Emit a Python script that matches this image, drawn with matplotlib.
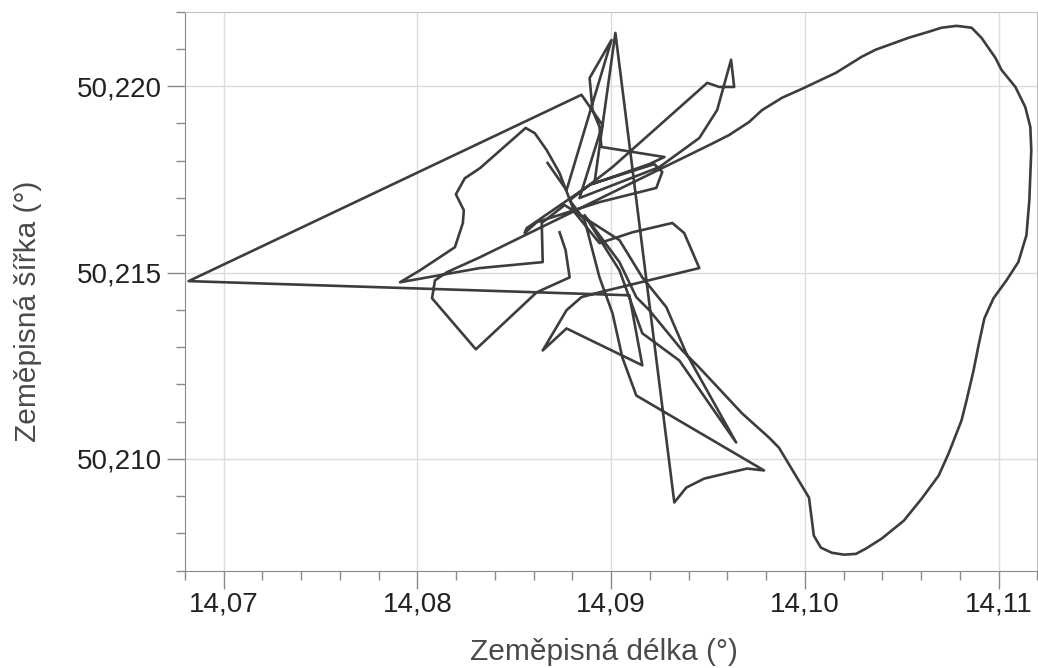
import matplotlib
matplotlib.use("Agg")
import matplotlib.pyplot as plt
from matplotlib.ticker import MultipleLocator, FuncFormatter

plt.rcParams["font.family"] = ["Liberation Sans", "DejaVu Sans"]

# GPS track (longitude, latitude in degrees)
lon = [
    14.08672, 14.08770, 14.09002, 14.08889, 14.08904, 14.08940, 14.08950, 14.09275,
    14.09197, 14.08889, 14.08564, 14.08554, 14.08616, 14.08940, 14.09233, 14.09264,
    14.09223, 14.08914, 14.09022,
    14.09326, 14.09388, 14.09480, 14.09609, 14.09702, 14.09789, 14.09130, 14.09058,
    14.09007, 14.08940, 14.08863, 14.08786,
    14.09007, 14.09496, 14.09558, 14.09635, 14.09619, 14.09547, 14.09455, 14.09249,
    14.08837,
    14.08955, 14.08847, 14.06820, 14.09094, 14.09161, 14.08770, 14.08647, 14.08770,
    14.08847, 14.08940, 14.09455, 14.09377, 14.09316, 14.09110, 14.08940, 14.08811,
    14.08734, 14.08667, 14.08606, 14.08559, 14.08323, 14.08245, 14.08199, 14.08240,
    14.08235, 14.08194, 14.08014, 14.07911, 14.08323, 14.08647, 14.08642, 14.08760,
    14.09043, 14.09161, 14.09285, 14.09388, 14.09645, 14.09352, 14.09161, 14.09043,
    14.08863,
    14.09043, 14.09130, 14.09197, 14.09367, 14.09455, 14.09676, 14.09815, 14.09866,
    14.10021, 14.10046, 14.10082, 14.10139, 14.10201, 14.10263, 14.10314, 14.10396,
    14.10510, 14.10602, 14.10690, 14.10741, 14.10808, 14.10834, 14.10870, 14.10896,
    14.10926, 14.10973, 14.11040, 14.11101, 14.11143, 14.11158, 14.11168, 14.11163,
    14.11137, 14.11086, 14.11014, 14.10983, 14.10911, 14.10860, 14.10782, 14.10705,
    14.10638, 14.10535, 14.10365, 14.10293, 14.10160, 14.09985, 14.09882, 14.09779,
    14.09712, 14.09609, 14.09506,
    14.08323, 14.08153, 14.08091, 14.08076, 14.08302, 14.08616, 14.08786, 14.08765,
    14.08734,
]
lat = [
    50.21794, 50.21721, 50.22124, 50.22022, 50.21936, 50.21891, 50.21837, 50.21810,
    50.21791, 50.21735, 50.21619, 50.21606, 50.21635, 50.21689, 50.21727, 50.21770,
    50.21791, 50.21740, 50.22143,
    50.20883, 50.20923, 50.20947, 50.20963, 50.20974, 50.20969, 50.21170, 50.21272,
    50.21391, 50.21487, 50.21641, 50.21694,
    50.21783, 50.22009, 50.21998, 50.21998, 50.22071, 50.21936, 50.21861, 50.21783,
    50.21700,
    50.21896, 50.21977, 50.21477, 50.21439, 50.21251, 50.21350, 50.21291, 50.21399,
    50.21434, 50.21447, 50.21512, 50.21606, 50.21633, 50.21608, 50.21579, 50.21662,
    50.21767, 50.21829, 50.21874, 50.21888, 50.21780, 50.21753, 50.21710, 50.21667,
    50.21633, 50.21568, 50.21506, 50.21474, 50.21512, 50.21528, 50.21633, 50.21681,
    50.21587, 50.21487, 50.21407, 50.21283, 50.21044, 50.21264, 50.21337, 50.21506,
    50.21654,
    50.21528, 50.21434, 50.21399, 50.21291, 50.21245, 50.21122, 50.21057, 50.21030,
    50.20896, 50.20794, 50.20762, 50.20748, 50.20743, 50.20745, 50.20759, 50.20786,
    50.20834, 50.20893, 50.20955, 50.21014, 50.21103, 50.21157, 50.21237, 50.21305,
    50.21377, 50.21431, 50.21479, 50.21528, 50.21600, 50.21694, 50.21829, 50.21891,
    50.21944, 50.21998, 50.22044, 50.22076, 50.22130, 50.22157, 50.22162, 50.22157,
    50.22146, 50.22130, 50.22098, 50.22079, 50.22036, 50.21993, 50.21969, 50.21936,
    50.21904, 50.21869, 50.21842,
    50.21541, 50.21501, 50.21479, 50.21431, 50.21294, 50.21447, 50.21487, 50.21560,
    50.21608,
]

x_label = "Zeměpisná délka (°)"
y_label = "Zeměpisná šířka (°)"

fig = plt.figure(figsize=(10.38, 6.68), dpi=100)
ax = fig.add_axes([0.178, 0.1457, 0.8215, 0.8368])

ax.plot(lon, lat, color="#3d3d3d", lw=1.9, solid_joinstyle="round", zorder=3)

ax.set_xlim(14.068, 14.112)
ax.set_ylim(50.207, 50.222)

ax.xaxis.set_major_locator(MultipleLocator(0.01))
ax.xaxis.set_minor_locator(MultipleLocator(0.002))
ax.yaxis.set_major_locator(MultipleLocator(0.005))
ax.yaxis.set_minor_locator(MultipleLocator(0.001))
ax.xaxis.set_major_formatter(FuncFormatter(lambda v, p: f"{v:.2f}".replace(".", ",")))
ax.yaxis.set_major_formatter(FuncFormatter(lambda v, p: f"{v:.3f}".replace(".", ",")))

ax.grid(True, which="major", color="#dcdcdc", lw=1.0, zorder=0)
ax.tick_params(which="major", direction="out", length=13, width=1, color="#8a8a8a",
               labelsize=20, labelcolor="#222222")
ax.tick_params(which="minor", direction="out", length=6.5, width=1, color="#8a8a8a")
ax.tick_params(axis="x", which="major", pad=2)
ax.tick_params(axis="y", which="major", pad=3.5)

for side in ["left", "bottom"]:
    ax.spines[side].set_color("#8a8a8a")
for side in ["top", "right"]:
    ax.spines[side].set_color("#c4c4c4")

ax.set_xlabel(x_label, fontsize=21.5, color="#4a4a4a")
ax.set_ylabel(y_label, fontsize=21.5, color="#4a4a4a")
ax.xaxis.set_label_coords(0.492, -0.12)
ax.yaxis.set_label_coords(-0.167, 0.464)

fig.savefig("out.png", dpi=100)
